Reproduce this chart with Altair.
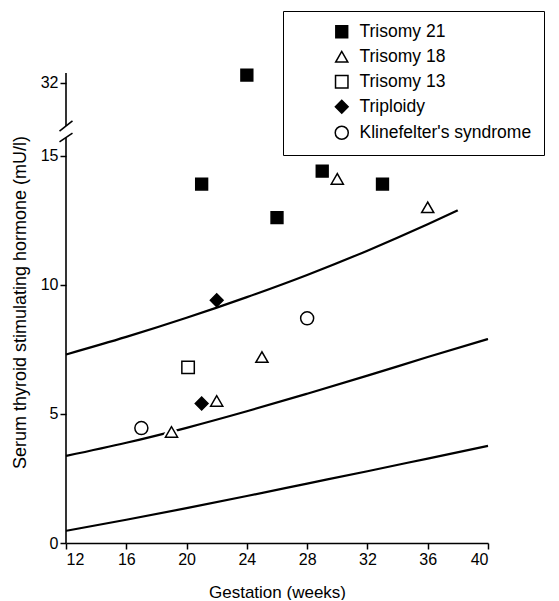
import altair as alt
import pandas as pd

# ---------------- data ----------------
groups = ["Trisomy 21", "Trisomy 18", "Trisomy 13", "Triploidy", "Klinefelter's syndrome"]

t21_weeks = [24, 21, 26, 29, 33]
t21_tsh = [32.3, 13.9, 12.6, 14.4, 13.9]
t18_weeks = [30, 36, 25, 22, 19]
t18_tsh = [14.1, 13.0, 7.2, 5.5, 4.3]
t13_weeks = [20.1]
t13_tsh = [6.8]
trip_weeks = [22, 21]
trip_tsh = [9.4, 5.4]
kline_weeks = [28, 17]
kline_tsh = [8.7, 4.45]

upper_weeks = [12, 16, 20, 24, 28, 32, 36, 38]
upper_tsh = [7.3, 7.98, 8.72, 9.52, 10.38, 11.32, 12.34, 12.88]
curve_weeks = [12, 16, 20, 24, 28, 32, 36, 40]
middle_tsh = [3.37, 3.88, 4.46, 5.1, 5.78, 6.48, 7.2, 7.9]
lower_tsh = [0.47, 0.9, 1.35, 1.82, 2.3, 2.78, 3.27, 3.76]

x_ticks = [12, 16, 20, 24, 28, 32, 36, 40]
y_ticks_low = [0, 5, 10, 15]
y_tick_high = 32

# ---------------- broken-axis layout (styling) ----------------
POS32 = 17.82          # where 32 sits on the compressed axis
Y_TOP = 18.2
BREAK_HI = 16.15       # upper slash
BREAK_LO = 15.7        # lower slash

def to_pos(v):
    return v if v <= 15.5 else POS32 + (v - y_tick_high)

rows = []
for g, xs, ys in [
    (groups[0], t21_weeks, t21_tsh),
    (groups[1], t18_weeks, t18_tsh),
    (groups[2], t13_weeks, t13_tsh),
    (groups[3], trip_weeks, trip_tsh),
    (groups[4], kline_weeks, kline_tsh),
]:
    for x, y in zip(xs, ys):
        rows.append({"group": g, "weeks": x, "tsh": y})
pts = pd.DataFrame(rows)

curves = pd.concat([
    pd.DataFrame({"curve": "upper", "weeks": upper_weeks, "tsh": upper_tsh}),
    pd.DataFrame({"curve": "middle", "weeks": curve_weeks, "tsh": middle_tsh}),
    pd.DataFrame({"curve": "lower", "weeks": curve_weeks, "tsh": lower_tsh}),
])

axis_segs = pd.DataFrame({"weeks": [12, 12], "pos": [0, BREAK_HI], "pos2": [BREAK_LO, Y_TOP]})
slashes = pd.DataFrame({
    "weeks": [11.57, 11.57], "weeks2": [12.43, 12.43],
    "pos": [BREAK_HI - 0.2, BREAK_LO - 0.17], "pos2": [BREAK_HI + 0.2, BREAK_LO + 0.17],
})

FONT = "Liberation Sans"
pos_expr = f"datum.tsh > 15.5 ? {POS32} + (datum.tsh - {y_tick_high}) : datum.tsh"

xscale = alt.Scale(domain=[12, 40], nice=False, zero=False)
yscale = alt.Scale(domain=[0, Y_TOP], nice=False)

y_tick_vals = y_ticks_low + [to_pos(y_tick_high)]

x_axis = alt.Axis(
    values=x_ticks, title="Gestation (weeks)", grid=False, domainColor="black",
    domainWidth=1.6, tickColor="black", tickWidth=1.5, tickSize=6,
    labelFontSize=16, labelColor="black", labelPadding=2, labelFont=FONT,
    titleFontSize=17, titleFontWeight="normal", titleColor="black", titleFont=FONT,
    titlePadding=17,
)
y_axis = alt.Axis(
    values=y_tick_vals, title="Serum thyroid stimulating hormone (mU/l)", grid=False,
    domain=False, tickColor="black", tickWidth=1.5, tickSize=6,
    labelExpr=f"datum.value > 16 ? '{y_tick_high}' : datum.label",
    labelFontSize=16, labelColor="black", labelPadding=2, labelFont=FONT,
    titleFontSize=18, titleFontWeight="normal", titleColor="black", titleFont=FONT,
    titleAngle=270, titleX=-45.5, titleY=229, titleAlign="center", titleBaseline="middle",
)

lines = alt.Chart(curves).mark_line(color="black", strokeWidth=2.2, interpolate="monotone").encode(
    x=alt.X("weeks:Q", scale=xscale, axis=x_axis),
    y=alt.Y("pos:Q", scale=yscale, axis=y_axis),
    detail="curve:N",
).transform_calculate(pos="datum.tsh")

halo = alt.Chart(pts).transform_filter(
    alt.datum.group == groups[1]
).transform_calculate(pos=pos_expr).mark_point(
    shape="triangle-up", size=170, fill="white", stroke="white", strokeWidth=5, opacity=1, filled=False
).encode(x="weeks:Q", y="pos:Q")

shape_range = ["square", "triangle-up", "square", "diamond", "circle"]
fill_range = ["black", "white", "white", "black", "white"]
stroke_range = ["black"] * 5
size_range = [140, 170, 115, 230, 120]

legend = alt.Legend(
    title=None, orient="none", legendX=217, legendY=-62, strokeColor="black",
    fillColor="white", padding=12, symbolOffset=38, labelOffset=9, rowPadding=6,
    labelFontSize=17.5, labelFont=FONT, labelColor="black", labelLimit=0,
    symbolStrokeWidth=1.5, symbolOpacity=1,
)

points = alt.Chart(pts).transform_calculate(pos=pos_expr).mark_point(
    strokeWidth=1.5, opacity=1
).encode(
    x="weeks:Q",
    y="pos:Q",
    shape=alt.Shape("group:N", scale=alt.Scale(domain=groups, range=shape_range), legend=legend),
    fill=alt.Fill("group:N", scale=alt.Scale(domain=groups, range=fill_range), legend=legend),
    stroke=alt.Stroke("group:N", scale=alt.Scale(domain=groups, range=stroke_range), legend=legend),
    size=alt.Size("group:N", scale=alt.Scale(domain=groups, range=size_range), legend=legend),
)

yaxis_line = alt.Chart(axis_segs).mark_rule(color="black", strokeWidth=1.6).encode(
    x="weeks:Q", y="pos:Q", y2="pos2:Q"
)
slash_marks = alt.Chart(slashes).mark_rule(color="black", strokeWidth=1.6).encode(
    x="weeks:Q", x2="weeks2:Q", y="pos:Q", y2="pos2:Q"
)

chart = alt.layer(lines, halo, points, yaxis_line, slash_marks).properties(
    width=422, height=470,
    autosize=alt.AutoSizeParams(type="none"),
    padding={"left": 58, "top": 65, "right": 62, "bottom": 57},
).configure(font=FONT, background="white").configure_view(stroke=None, strokeWidth=0)

chart.save("out.html", embed_options={"renderer": "svg", "actions": False})
